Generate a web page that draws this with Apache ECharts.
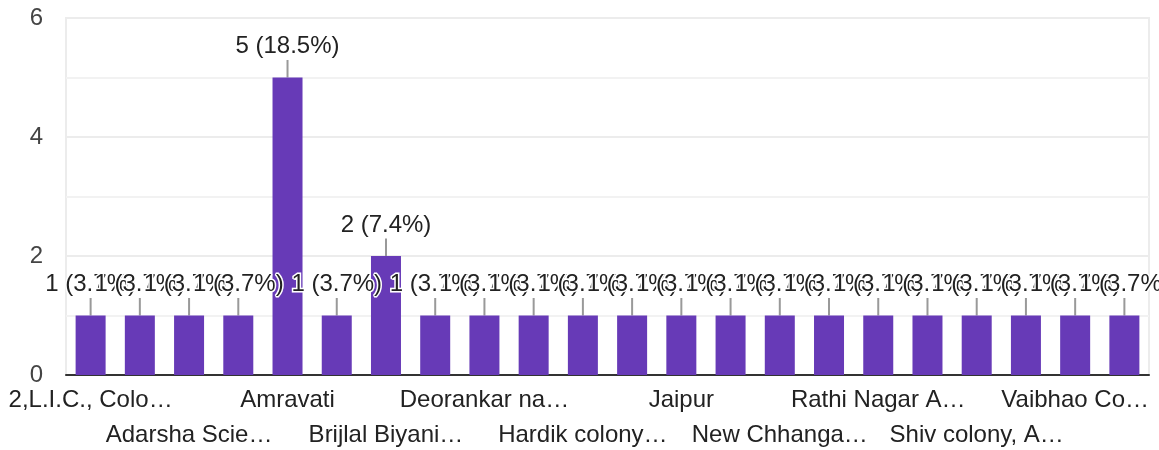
<!DOCTYPE html>
<html>
<head>
<meta charset="utf-8">
<title>Location responses</title>
<script src="https://cdn.jsdelivr.net/npm/echarts@6/dist/echarts.min.js"></script>
<style>
  html, body { margin: 0; padding: 0; background: #fff; }
  #chart { width: 1159px; height: 450px; }
</style>
</head>
<body>
<div id="chart"></div>
<script>
// Answer categories (only every second one carries a visible name)
const categories = [
  '2,L.I.C., Colo…', ' ', 'Adarsha Scie…', '  ', 'Amravati', '   ',
  'Brijlal Biyani…', '    ', 'Deorankar na…', '     ', 'Hardik colony…', '      ',
  'Jaipur', '       ', 'New Chhanga…', '        ', 'Rathi Nagar A…', '         ',
  'Shiv colony, A…', '          ', 'Vaibhao Co…', '           '
];
// Response counts per category
const counts = [1, 1, 1, 1, 5, 1, 2, 1, 1, 1, 1, 1, 1, 1, 1, 1, 1, 1, 1, 1, 1, 1];
// Value-axis ticks
const yTicks = [0, 2, 4, 6];

const total = counts.reduce((a, b) => a + b, 0);
const font = 'Arial, "Liberation Sans", sans-serif';

const chart = echarts.init(document.getElementById('chart'), null, { renderer: 'canvas' });
chart.setOption({
  animation: false,
  grid: {
    left: 66, right: 10, top: 18, bottom: 75,
    outerBoundsMode: 'none',
    containLabel: false,
    show: true, borderColor: '#ececec', borderWidth: 2, backgroundColor: 'transparent'
  },
  xAxis: {
    type: 'category',
    data: categories,
    axisLine: { show: true, lineStyle: { color: '#333', width: 2 } },
    axisTick: { show: false },
    axisLabel: {
      interval: 0,
      margin: 8,
      color: '#222',
      fontFamily: font,
      fontSize: 24,
      lineHeight: 35,
      formatter: (val, idx) => {
        if (idx % 2) return '';
        return (idx / 2) % 2 ? '\n' + val : val;
      }
    }
  },
  yAxis: {
    type: 'value',
    min: yTicks[0],
    max: yTicks[yTicks.length - 1],
    interval: 2,
    axisLine: { show: false },
    axisTick: { show: false },
    axisLabel: { color: '#444', fontFamily: font, fontSize: 24, margin: 23 },
    splitLine: { show: true, lineStyle: { color: '#ececec', width: 2 } },
    minorTick: { show: false, splitNumber: 2 },
    minorSplitLine: { show: true, lineStyle: { color: '#f2f2f2', width: 2 } }
  },
  series: [{
    type: 'bar',
    data: counts,
    barWidth: 30,
    itemStyle: { color: '#673ab7' },
    label: {
      show: true,
      position: 'top',
      distance: 4,
      color: '#222',
      fontFamily: font,
      fontSize: 24,
      textBorderColor: '#fff',
      textBorderWidth: 3,
      formatter: p => `${p.value} (${(p.value / total * 100).toFixed(1)}%)`
    },
    labelLayout: { dy: -15 },
    labelLine: { show: true, lineStyle: { color: '#999', width: 2 } }
  }]
});
</script>
</body>
</html>
